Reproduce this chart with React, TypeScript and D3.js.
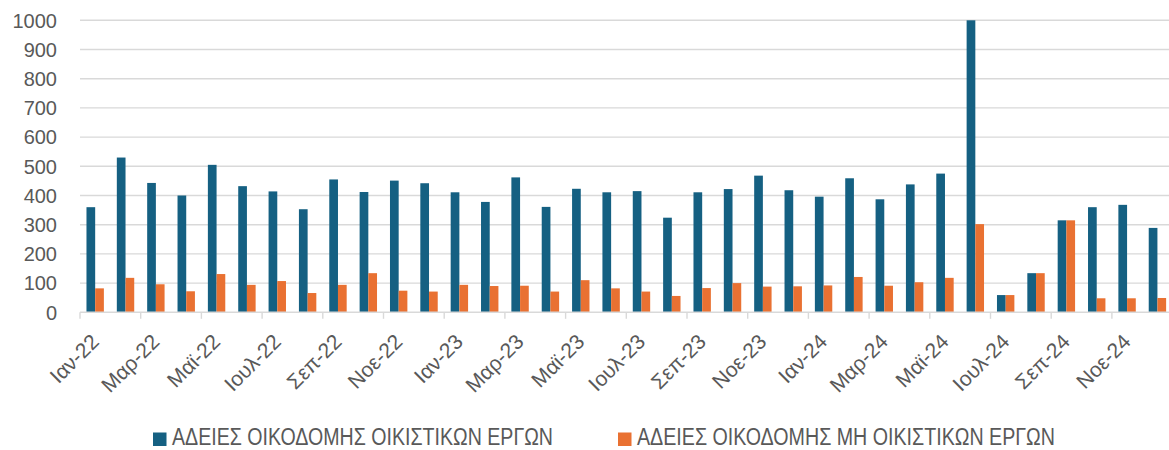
import React from "react";
import * as d3 from "d3";

const monthNames = ["Ιαν", "Φεβ", "Μαρ", "Απρ", "Μαϊ", "Ιουν", "Ιουλ", "Αυγ", "Σεπ", "Οκτ", "Νοε", "Δεκ"];
const years = ["22", "23", "24"];
const categories: string[] = years.flatMap((y) => monthNames.map((m) => `${m}-${y}`));

const residential = [
  360, 530, 443, 400, 505, 432, 414, 353, 455, 412, 451, 442,
  411, 378, 462, 361, 423, 411, 415, 324, 411, 422, 468, 418,
  396, 459, 387, 438, 475, 1000, 59, 134, 315, 360, 368, 289,
];
const nonResidential = [
  82, 118, 96, 72, 131, 94, 107, 66, 94, 134, 74, 71,
  94, 90, 91, 71, 110, 82, 71, 56, 83, 100, 88, 89,
  92, 121, 91, 103, 118, 302, 59, 134, 315, 48, 48, 49,
];
const seriesNames = ["ΑΔΕΙΕΣ ΟΙΚΟΔΟΜΗΣ ΟΙΚΙΣΤΙΚΩΝ ΕΡΓΩΝ", "ΑΔΕΙΕΣ ΟΙΚΟΔΟΜΗΣ ΜΗ ΟΙΚΙΣΤΙΚΩΝ ΕΡΓΩΝ"];
const yTicks = [0, 100, 200, 300, 400, 500, 600, 700, 800, 900, 1000];

const W = 1169;
const H = 450;
const colors = ["#156082", "#E97132"];
const font = "'Liberation Sans', Arial, sans-serif";

export default function App() {
  const x = d3.scaleBand<string>().domain(categories).range([80, 1172.6]).paddingInner(0).paddingOuter(0);
  const bw = x.bandwidth();
  const barW = 8.7;
  const xs = d3.scaleBand<number>().domain([0, 1]).range([bw / 2 - barW, bw / 2 + barW]).padding(0);
  const y = d3.scaleLinear().domain([0, 1000]).range([312.3, 20.3]);
  const series = [residential, nonResidential];

  const legend = [
    { sx: 153, tx: 172, tw: 381 },
    { sx: 618, tx: 637, tw: 418 },
  ];

  return (
    <svg width={W} height={H} style={{ position: "absolute", left: 0, top: 0, background: "#fff" }} fontFamily={font}>
      {yTicks.map((t) => (
        <g key={t}>
          {t > 0 && (
            <line x1={80} x2={W} y1={y(t)} y2={y(t)} stroke="#d9d9d9" strokeWidth={1.4} />
          )}
          <text x={57} y={y(t)} dy="0.36em" textAnchor="end" fontSize={20} fill="#595959">
            {t}
          </text>
        </g>
      ))}
      {series.map((vals, si) => (
        <g key={si} fill={colors[si]}>
          {vals.map((v, i) => (
            <rect
              key={i}
              x={(x(categories[i]) as number) + (xs(si) as number)}
              y={y(v)}
              width={xs.bandwidth()}
              height={y(0) - y(v)}
            />
          ))}
        </g>
      ))}
      <line x1={80} x2={W} y1={y(0)} y2={y(0)} stroke="#d9d9d9" strokeWidth={1.4} />
      {categories.map((c, i) =>
        i % 2 === 0 ? (
          <line key={c} x1={x(c) as number} x2={x(c) as number} y1={y(0)} y2={y(0) + 6.5} stroke="#d9d9d9" strokeWidth={1.4} />
        ) : null
      )}
      {categories.map((c, i) =>
        i % 2 === 0 ? (
          <text
            key={c}
            transform={`translate(${(x(c) as number) + bw / 2 + 5},343) rotate(-45)`}
            textAnchor="end"
            fontSize={21}
            fill="#595959"
          >
            {c}
          </text>
        ) : null
      )}
      {legend.map((l, i) => (
        <g key={i}>
          <rect x={l.sx} y={432.5} width={13.5} height={13.5} fill={colors[i]} />
          <text x={l.tx} y={445} fontSize={23} fill="#595959" textLength={l.tw} lengthAdjust="spacingAndGlyphs">
            {seriesNames[i]}
          </text>
        </g>
      ))}
    </svg>
  );
}
